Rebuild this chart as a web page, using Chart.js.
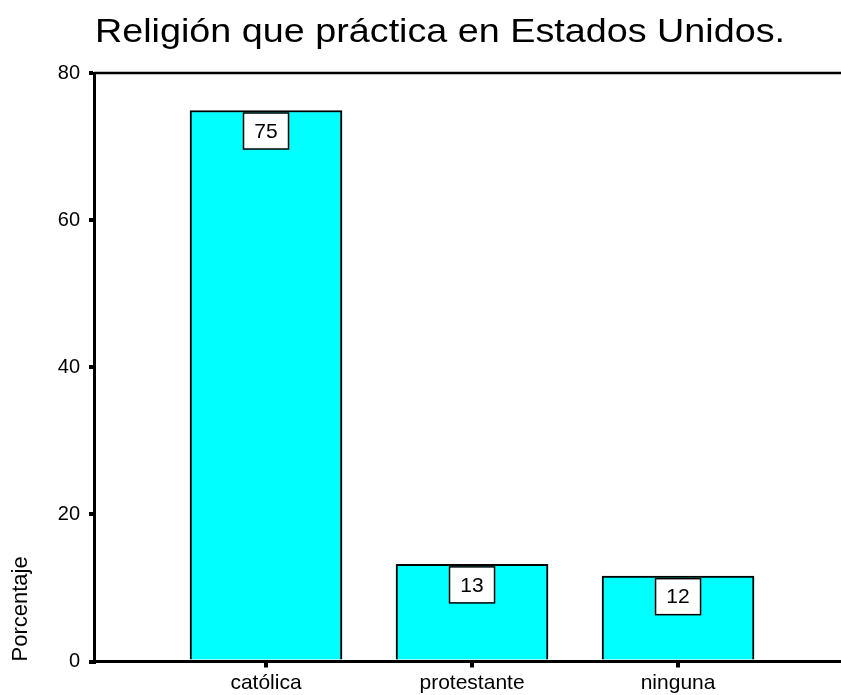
<!DOCTYPE html>
<html><head><meta charset="utf-8">
<script src="https://cdn.jsdelivr.net/npm/chart.js@4"></script>
<style>html,body{margin:0;padding:0;background:#fff;}#wrap{width:841px;height:695px;}</style>
</head><body><div id="wrap"><canvas id="c" width="841" height="695"></canvas></div>
<script>
const titleText = 'Religión que práctica en Estados Unidos.';
const categories = ['católica', 'protestante', 'ninguna'];
const values = [74.9, 13.2, 11.6];
const valueLabels = ['75', '13', '12'];
const yTicks = [0, 20, 40, 60, 80];
const yAxisTitle = 'Porcentaje';

const FAM = '"Liberation Sans", Arial, Helvetica, sans-serif';

const frameAndLabels = {
  id: 'frameAndLabels',
  afterDatasetsDraw(chart) {
    const ctx = chart.ctx;
    const meta = chart.getDatasetMeta(0);
    ctx.save();
    meta.data.forEach((bar, i) => {
      const w = 45, h = 36;
      const x = bar.x - w / 2, y = bar.y + 2.5;
      ctx.fillStyle = '#fff';
      ctx.fillRect(x, y, w, h);
      ctx.strokeStyle = '#000';
      ctx.lineWidth = 1.5;
      ctx.strokeRect(x, y, w, h);
      ctx.fillStyle = '#000';
      ctx.font = '21px ' + FAM;
      ctx.textAlign = 'center';
      ctx.textBaseline = 'middle';
      ctx.fillText(valueLabels[i], bar.x, y + h / 2 + 1);
    });
    ctx.restore();
  },
  afterDraw(chart) {
    const ctx = chart.ctx;
    const a = chart.chartArea;
    ctx.save();
    ctx.strokeStyle = '#000';
    ctx.lineWidth = 2.5;
    ctx.beginPath();
    ctx.moveTo(a.left, a.top);
    ctx.lineTo(a.right, a.top);
    ctx.stroke();
    // title
    ctx.font = '33px ' + FAM;
    ctx.fillStyle = '#000';
    ctx.textBaseline = 'alphabetic';
    ctx.textAlign = 'center';
    const tw = ctx.measureText(titleText).width;
    const sx = 690 / tw;
    ctx.translate(440, 42);
    ctx.scale(sx, 1);
    ctx.fillText(titleText, 0, 0);
    ctx.restore();
  }
};

new Chart(document.getElementById('c'), {
  type: 'bar',
  data: {
    datasets: [{
      data: categories.map((c, i) => ({ x: i, y: values[i] })),
      backgroundColor: '#00FFFF',
      borderColor: '#000',
      borderWidth: 2,
      barThickness: 152
    }]
  },
  options: {
    responsive: false,
    animation: false,
    layout: { padding: { top: 73, right: 0, left: 0, bottom: 0 } },
    plugins: { legend: { display: false }, tooltip: { enabled: false }, title: { display: false } },
    scales: {
      x: {
        type: 'linear',
        offset: false,
        min: -0.835,
        max: 2.791,
        afterBuildTicks: s => { s.ticks = categories.map((c, i) => ({ value: i })); },
        ticks: {
          callback: v => categories[v],
          font: { family: FAM, size: 21 },
          color: '#000',
          padding: 3,
          maxRotation: 0,
          autoSkip: false
        },
        grid: { offset: false, drawOnChartArea: false, drawTicks: true, tickLength: 6, lineWidth: 4, color: '#000' },
        border: { display: true, color: '#000', width: 3 },
        afterFit: s => { s.height = 33.5; }
      },
      y: {
        min: 0,
        max: 80,
        afterBuildTicks: s => { s.ticks = yTicks.map(v => ({ value: v })); },
        ticks: { font: { family: FAM, size: 20 }, color: '#000', padding: 9 },
        grid: { drawOnChartArea: false, drawTicks: true, tickLength: 5, lineWidth: 4, color: '#000' },
        border: { display: true, color: '#000', width: 3 },
        title: { display: true, text: yAxisTitle, align: 'start', font: { family: FAM, size: 22 }, color: '#000', padding: { top: 8, bottom: 0 } },
        afterFit: s => { s.width = 94; }
      }
    }
  },
  plugins: [frameAndLabels]
});
</script>
</body></html>
